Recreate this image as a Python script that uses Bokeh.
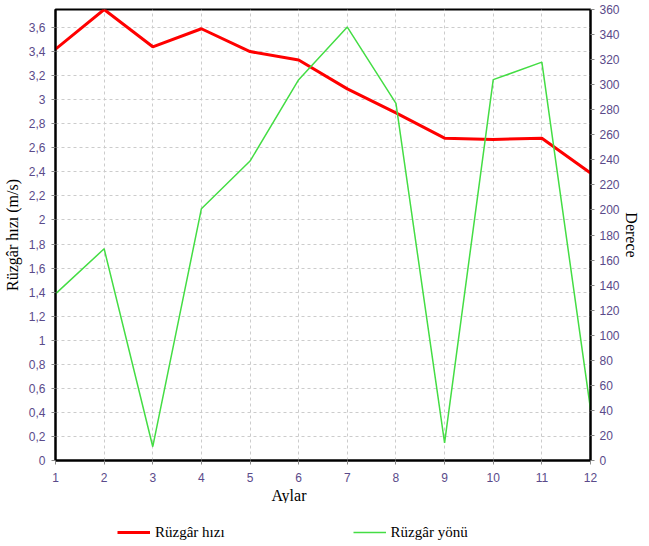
from bokeh.plotting import figure
from bokeh.layouts import column
from bokeh.models import Range1d, LinearAxis, FixedTicker, Legend, LegendItem, Title
from bokeh.embed import file_html
from bokeh.resources import INLINE

months = [1, 2, 3, 4, 5, 6, 7, 8, 9, 10, 11, 12]
speed = [3.42, 3.75, 3.44, 3.59, 3.40, 3.33, 3.09, 2.89, 2.68, 2.67, 2.68, 2.39]
direction = [133, 169, 11, 201, 239, 304, 346, 285, 14, 304, 318, 41]
series_names = ["Rüzgâr hızı", "Rüzgâr yönü"]
series_colors = ["#ff0000", "#44dd44"]
series_widths = [3, 1.5]

left_ticks = [round(0.2 * i, 1) for i in range(19)]
left_labels = {t: (str(t).replace(".", ",") if t != int(t) else str(int(t))) for t in left_ticks}
right_ticks = list(range(0, 361, 20))

TICK_FONT = "Liberation Sans"
TITLE_FONT = "Liberation Serif"
TICK_COLOR = "#5a4a8a"

p = figure(frame_width=535, frame_height=451, output_backend="svg", toolbar_location=None,
           x_range=Range1d(1, 12), y_range=Range1d(0, 3.75),
           min_border_left=48, min_border_right=2, min_border_top=9, min_border_bottom=0)
p.extra_y_ranges = {"dir": Range1d(0, 360)}

p.outline_line_color = "black"
p.outline_line_width = 2
p.background_fill_color = "white"

p.line(months, speed, color=series_colors[0], line_width=series_widths[0])
p.line(months, direction, color=series_colors[1], line_width=series_widths[1], y_range_name="dir")

raxis = LinearAxis(y_range_name="dir", ticker=FixedTicker(ticks=right_ticks))
p.add_layout(raxis, "right")

p.xaxis.ticker = FixedTicker(ticks=months)
p.yaxis[0].ticker = FixedTicker(ticks=left_ticks)
p.yaxis[0].major_label_overrides = left_labels

for ax in p.xaxis + p.yaxis:
    ax.axis_line_color = "black"
    ax.axis_line_width = 2
    ax.major_tick_line_color = "#888888"
    ax.major_tick_out = 4
    ax.major_tick_in = 0
    ax.minor_tick_line_color = None
    ax.major_label_text_font = TICK_FONT
    ax.major_label_text_font_size = "12px"
    ax.major_label_text_color = TICK_COLOR
    ax.axis_label_text_font = TITLE_FONT
    ax.axis_label_text_font_size = "16px"
    ax.axis_label_text_font_style = "normal"
    ax.axis_label_text_color = "black"

p.xaxis.major_label_standoff = 8
p.yaxis[0].axis_label = "Rüzgâr hızı (m/s)"
p.yaxis[0].axis_label_standoff = 5
p.yaxis[0].major_label_standoff = 6
raxis.axis_label = "Derece"
raxis.axis_label_standoff = 0
raxis.major_label_standoff = 5

p.xgrid.ticker = FixedTicker(ticks=months)
p.xgrid.grid_line_color = "#cccccc"
p.xgrid.grid_line_dash = "3 3"
p.ygrid.grid_line_color = "#cccccc"
p.ygrid.grid_line_dash = "3 3"

p.add_layout(Title(text="Aylar", align="left", offset=216, text_font=TITLE_FONT,
                   text_font_size="16px", text_font_style="normal", text_color="black",
                   standoff=0), "below")

# legend strip below the chart
nan = float("nan")
lg = figure(width=633, height=39, output_backend="svg", toolbar_location=None,
            x_range=Range1d(0, 1), y_range=Range1d(0, 1), min_border=0)
lg.axis.visible = False
lg.grid.visible = False
lg.outline_line_color = None
rends = [lg.line([nan], [nan], color=c, line_width=w) for c, w in zip(series_colors, series_widths)]
legend = Legend(items=[LegendItem(label=n, renderers=[r]) for n, r in zip(series_names, rends)],
                orientation="horizontal", location=(62, 0), margin=0,
                label_text_font=TITLE_FONT, label_text_font_size="15px", label_text_color="black",
                glyph_width=33, label_standoff=5, spacing=128, padding=0,
                border_line_color=None, background_fill_alpha=0)
lg.add_layout(legend, "center")

layout = column(p, lg, spacing=0)
open("out.html", "w").write(file_html(layout, INLINE))
